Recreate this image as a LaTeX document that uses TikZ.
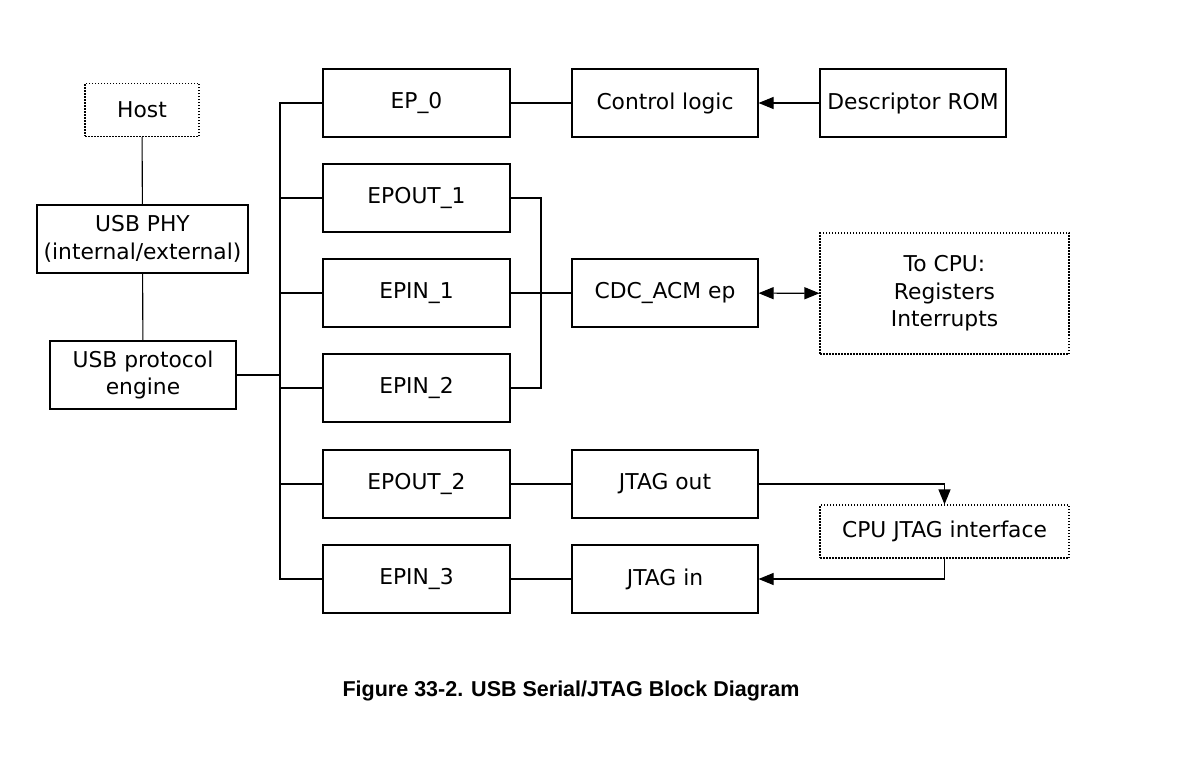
\documentclass[tikz,border=0pt]{standalone}
\usepackage{fontspec}
\setmainfont{DejaVu Sans}
\newfontfamily\capfont{Liberation Sans}
\usetikzlibrary{arrows.meta}
\begin{document}
\begin{tikzpicture}[x=1pt,y=-1pt,
  blk/.style={draw,line width=1.1pt,inner sep=0pt,align=center,font=\fontsize{21.8}{27.5}\selectfont},
  dblk/.style={blk,dash pattern=on 1.5pt off 1.5pt},
  ln/.style={line width=1.1pt},
  arr/.style={ln,-{Triangle[length=15pt,width=12pt]}},
  darr/.style={ln,{Triangle[length=15pt,width=12pt]}-{Triangle[length=15pt,width=12pt]}}]
\useasboundingbox (0,0) rectangle (1204,767);
% left column
\node[dblk,minimum width=114pt,minimum height=53pt] (host) at (142,110) {Host};
\node[blk,minimum width=211pt,minimum height=68pt] (phy) at (142.5,239) {USB PHY\\(internal/external)};
\node[blk,minimum width=186pt,minimum height=68pt] (eng) at (143,375) {USB protocol\\engine};
% endpoints
\foreach \n/\t/\y in {ep0/EP\_0/103, epout1/EPOUT\_1/198, epin1/EPIN\_1/293, epin2/EPIN\_2/388, epout2/EPOUT\_2/484, epin3/EPIN\_3/579}
  \node[blk,minimum width=187pt,minimum height=68pt] (\n) at (416.5,\y) {\t};
% middle column
\node[blk,minimum width=186pt,minimum height=68pt] (ctrl) at (665,103) {Control logic};
\node[blk,minimum width=186pt,minimum height=68pt] (rom) at (913,103) {Descriptor ROM};
\node[blk,minimum width=186pt,minimum height=68pt] (cdc) at (665,293) {CDC\_ACM ep};
\node[blk,minimum width=186pt,minimum height=68pt] (jout) at (665,484) {JTAG out};
\node[blk,minimum width=186pt,minimum height=68pt] (jin) at (665,579) {JTAG in};
\node[dblk,minimum width=249pt,minimum height=121pt] (cpu) at (944.5,293.5) {To CPU:\\Registers\\Interrupts};
\node[dblk,minimum width=249pt,minimum height=53pt] (cjtag) at (944.5,531.5) {CPU JTAG interface};
% bus
\coordinate (bus) at (280,375);
\draw[ln] (host) -- (phy);
\draw[ln] (phy) -- (eng);
\draw[line width=1.6pt] (eng.east) -- (bus);
\draw[ln] (ep0.west) -| (bus) |- (epin3.west);
\foreach \n in {epout1,epin1,epin2,epout2}
  \draw[ln] (\n.west) -- (\n.west -| bus);
% EPOUT_1/EPIN_2 merge
\coordinate (mrg) at (541,293);
\draw[ln] (epout1.east) -| (mrg) |- (epin2.east);
\draw[ln] (epin1.east) -- (cdc.west);
\draw[ln] (ep0) -- (ctrl);
\draw[arr] (rom) -- (ctrl);
\draw[darr] (cdc) -- (cpu);
\draw[ln] (epout2) -- (jout);
\draw[ln] (epin3) -- (jin);
\draw[arr] (jout.east) -| (cjtag.north);
\draw[arr] (cjtag.south) |- (jin.east);
% caption
\node[font=\capfont\bfseries\fontsize{21.5}{24}\selectfont] (cap) at (571,691) {Figure 33-2. USB Serial/JTAG Block Diagram};
\end{tikzpicture}
\end{document}
